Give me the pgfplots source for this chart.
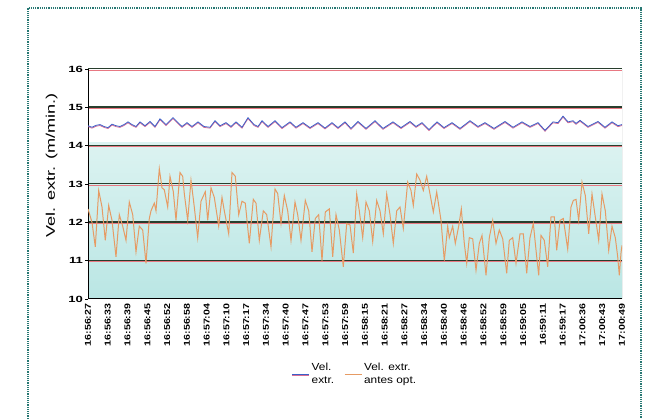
\documentclass[border=0pt]{standalone}
\usepackage{fontspec}
\setmainfont{Liberation Sans}
\newfontfamily\tickfont[FakeStretch=1.25]{Liberation Sans}
\newfontfamily\ytickfont[FakeStretch=1.45]{Liberation Sans}
\newfontfamily\labfont[FakeStretch=1.45]{Liberation Sans}
\newfontfamily\legfont[FakeStretch=1.15]{Liberation Sans}
\usepackage{pgfplots}
\pgfplotsset{compat=1.18}
\definecolor{gridgreen}{RGB}{40,62,45}
\definecolor{shadowred}{RGB}{232,120,130}
\definecolor{bluel}{RGB}{60,95,200}
\definecolor{pinkshadow}{RGB}{215,110,150}
\definecolor{orangel}{RGB}{230,155,100}
\definecolor{cyanbg}{RGB}{186,230,228}
\definecolor{cyantop}{RGB}{220,243,241}
\definecolor{frameteal}{RGB}{40,120,115}
\begin{document}
\begin{tikzpicture}
\path[use as bounding box] (0,0) rectangle (650pt,419pt);
\draw[frameteal, densely dotted, line width=1.2pt] (28pt,-2pt) -- (28pt,411pt) -- (641pt,411pt) -- (641pt,-2pt);
\begin{axis}[
  at={(88pt,120pt)}, anchor=south west,
  scale only axis, width=534pt, height=230pt,
  xmin=0, xmax=534, ymin=10, ymax=16,
  /pgf/number format/assume math mode=true,
  ytick={10,11,12,13,14,15,16},
  xtick={0,19.778,39.556,59.333,79.111,98.889,118.667,138.444,158.222,178,197.778,217.556,237.333,257.111,276.889,296.667,316.444,336.222,356,375.778,395.556,415.333,435.111,454.889,474.667,494.444,514.222,534},
  xticklabels={16:56:27,16:56:33,16:56:39,16:56:45,16:56:52,16:56:58,16:57:04,16:57:10,16:57:17,16:57:34,16:57:40,16:57:47,16:57:53,16:57:59,16:58:15,16:58:21,16:58:27,16:58:34,16:58:40,16:58:46,16:58:52,16:58:59,16:59:05,16:59:11,16:59:17,17:00:36,17:00:43,17:00:49},
  xticklabel style={rotate=90, anchor=east, font=\tickfont\bfseries\fontsize{8.5}{9}\selectfont, inner sep=1.5pt},
  yticklabel style={font=\ytickfont\bfseries\fontsize{9}{10}\selectfont, inner sep=2pt},
  xtick style={draw=none},
  ytick pos=left, tick align=outside, major tick length=3pt,
  ytick style={black, line width=0.8pt},
  axis line style={draw=none},
  ylabel={Vel. extr. (m/min.)},
  every axis y label/.style={at={(-0.068,0.58)}, rotate=90, anchor=center, font=\labfont\fontsize{12.5}{13}\selectfont},
  legend style={at={(0.5,-0.262)}, anchor=north, draw=none, fill=none, legend columns=2, font=\legfont\fontsize{10.3}{12.5}\selectfont, cells={align=left}, /tikz/every even column/.append style={column sep=8pt}},
  legend cell align=left,
]
\fill[bottom color=cyanbg, top color=cyantop] (axis cs:0,10) rectangle (axis cs:534,14.08);
\pgfplotsinvokeforeach{11,12,13,14,15,16}{
  \draw[shadowred, line width=0.5pt] ([yshift=-0.9pt]axis cs:0,#1) -- ([yshift=-0.9pt]axis cs:534,#1);
  \draw[gridgreen, line width=1.4pt] ([yshift=0.3pt]axis cs:0,#1) -- ([yshift=0.3pt]axis cs:534,#1);
}
\draw[black, line width=1.2pt] (axis cs:0,10) -- (axis cs:0,16);
\draw[black!45, line width=0.6pt] (axis cs:534,10) -- (axis cs:534,16);
\draw[black, line width=2.6pt] (axis cs:0,10) -- (axis cs:534,10);
\draw[shadowred, line width=0.8pt] ([yshift=-1.8pt]axis cs:0,10) -- ([yshift=-1.8pt]axis cs:534,10);

\addplot[bluel, line width=0.8pt, preaction={draw=pinkshadow, line width=0.8pt, transform canvas={yshift=-0.9pt}}] coordinates {
(0,14.52)(4,14.48)(8,14.53)(12,14.55)(16,14.5)(20,14.47)(24,14.56)(28,14.52)(32,14.5)(36,14.55)(40,14.62)(44,14.55)(48,14.5)(52,14.62)(57,14.52)(62,14.63)(67,14.5)(72,14.7)(78,14.55)(85,14.73)(90,14.6)(94,14.5)(99,14.6)(104,14.5)(110,14.62)(116,14.5)(122,14.48)(127,14.65)(132,14.52)(138,14.6)(143,14.5)(148,14.62)(154,14.48)(160,14.73)(166,14.55)(170,14.5)(174,14.65)(180,14.5)(187,14.65)(194,14.47)(202,14.62)(208,14.48)(215,14.6)(222,14.47)(230,14.6)(237,14.46)(244,14.6)(250,14.47)(257,14.62)(263,14.45)(270,14.63)(278,14.45)(287,14.65)(295,14.45)(305,14.62)(313,14.47)(322,14.63)(328,14.5)(334,14.6)(341,14.42)(349,14.62)(356,14.47)(364,14.6)(372,14.45)(382,14.65)(390,14.5)(397,14.6)(406,14.45)(417,14.63)(425,14.48)(434,14.62)(442,14.5)(450,14.6)(457,14.4)(465,14.62)(470,14.6)(475,14.77)(480,14.62)(485,14.65)(488,14.58)(492,14.66)(500,14.5)(510,14.63)(517,14.48)(524,14.62)(530,14.52)(534,14.55)
};
\addlegendentry{Vel.\\extr.}
\addplot[orangel, line width=1pt] coordinates {
(0,12.35)(4,12.0)(7.3,11.36)(10.7,12.83)(14,12.4)(17.3,11.53)(20.7,12.44)(24,12.05)(28,11.1)(31.3,12.2)(34.7,11.9)(38,11.53)(41.3,12.53)(44.7,12.2)(48,11.23)(51.3,11.9)(54.7,11.8)(58,10.93)(61.3,12.1)(63,12.3)(66.3,12.5)(68,12.3)(71.3,13.4)(74,12.9)(76.3,12.85)(79.7,12.4)(82,13.2)(85.3,12.8)(88,12.05)(92,13.3)(94.7,13.2)(96.3,12.75)(99.7,12.05)(103,13.1)(106.3,12.4)(109.7,11.6)(113,12.55)(117.3,12.8)(119.7,12.05)(123,12.9)(126.3,12.65)(130.7,11.9)(134,12.65)(136.3,12.3)(140.7,11.7)(144,13.3)(147.3,13.2)(150.7,12.2)(154,12.55)(157.3,12.5)(161.3,11.45)(165.3,12.6)(168,12.5)(171.3,11.53)(175.3,12.3)(178.7,12.2)(183,11.36)(187,12.87)(189.7,12.75)(193,11.97)(196.3,12.7)(199.7,12.3)(203,11.53)(207,12.53)(209.7,12.2)(213,11.53)(217.3,12.57)(220.7,12.3)(224,11.23)(227.3,12.1)(230.7,12.2)(234,11.0)(237.3,12.27)(241.3,12.35)(244.7,11.1)(248,12.2)(251.3,11.8)(255.3,10.84)(258.7,11.97)(262,11.93)(265.3,11.2)(268.7,12.74)(271.3,12.3)(274.7,11.6)(278,12.53)(281.3,12.3)(284.7,11.5)(288.7,12.57)(292,12.3)(295.3,11.7)(298.7,12.74)(302,12.2)(305.3,11.45)(308.7,12.3)(312,12.4)(315.3,11.84)(319.7,13.05)(323,12.83)(325.3,12.44)(328.7,13.26)(332,13.1)(335.3,12.83)(338.7,13.2)(342,12.74)(345.3,12.27)(348.7,12.79)(353,12.05)(356.3,11.0)(359.7,11.9)(361.3,11.6)(364.7,11.9)(367.3,11.45)(370.7,11.9)(373.3,12.35)(376.3,11.45)(378.7,10.93)(381.3,11.6)(384.7,11.57)(388,10.75)(391.3,11.45)(394,11.66)(398,10.62)(401.3,11.6)(404.7,12.05)(408,11.45)(411.3,11.8)(414.7,11.57)(418.7,10.67)(421.3,11.53)(424.7,11.6)(428,10.93)(432,11.7)(435.3,11.7)(438.7,10.67)(442,11.6)(445.3,11.97)(448.7,11.1)(450.7,10.62)(453,11.66)(456.3,11.53)(459.7,10.84)(463,12.14)(466.3,12.14)(468.7,11.27)(472,12.05)(475.3,12.1)(479.7,11.3)(483,12.4)(485.3,12.57)(488,12.6)(490.7,12.05)(494,13.05)(497.3,12.7)(500.7,11.7)(504,12.74)(507.3,12.14)(510.7,11.53)(514,12.74)(517.3,12.3)(520.7,11.27)(524,11.9)(527.3,11.6)(529.7,11.1)(531.3,10.62)(533,11.2)(534,11.4)
};
\addlegendentry{Vel. extr.\\antes opt.}
\end{axis}
\end{tikzpicture}
\end{document}
